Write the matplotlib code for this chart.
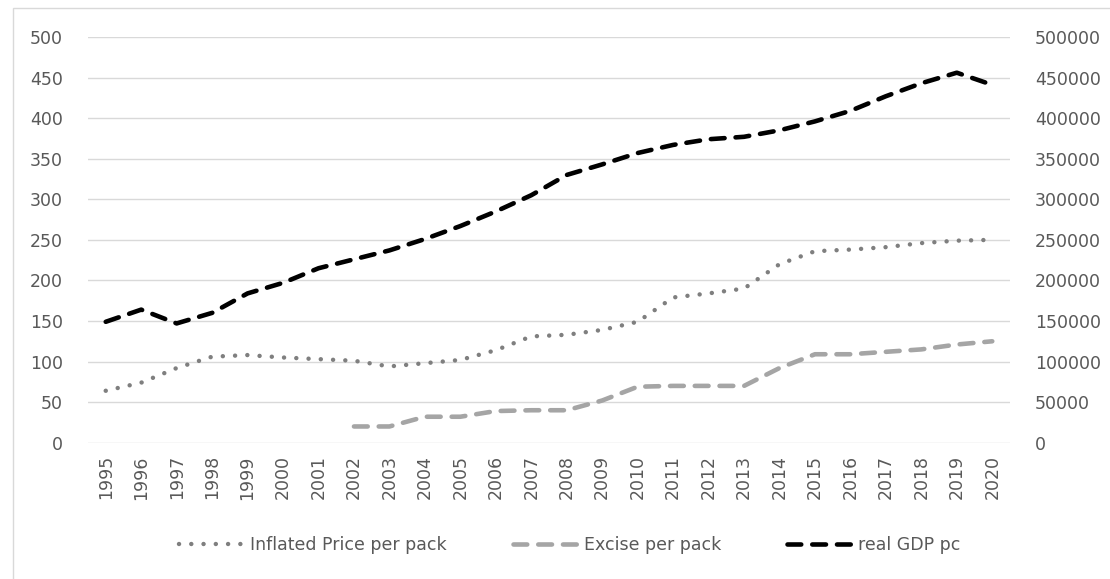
import matplotlib
matplotlib.use("Agg")
import matplotlib.pyplot as plt
from matplotlib.lines import Line2D
from matplotlib.patches import Rectangle
import numpy as np

years = [str(y) for y in range(1995, 2021)]

inflated_price = [64, 74, 92, 106, 108, 105, 103, 101, 94, 98, 102, 114, 131, 133, 139, 149,
                  179, 184, 190, 220, 236, 238, 241, 246, 249, 250]

excise = [None, None, None, None, None, None, None, 20, 20, 32, 32, 39, 40, 40, 52, 69,
          70, 70, 70, 92, 109, 109, 112, 115, 121, 125]

real_gdp_pc = [149000, 164000, 147000, 160000, 184000, 197000, 215000, 226000, 237000, 251000,
               267000, 285000, 305000, 330000, 343000, 357000, 367000, 374000, 377000, 385000,
               396000, 409000, 427000, 443000, 456000, 441000]

left_ticks = list(range(0, 501, 50))
right_ticks = list(range(0, 500001, 50000))

plt.rcParams['font.family'] = ['DejaVu Sans']
TEXT = '#595959'
GRID = '#D9D9D9'
FS = 12.5

fig = plt.figure(figsize=(11.10, 5.79), dpi=100)
fig.patch.set_facecolor('white')

# outer chart frame
fig.patches.append(Rectangle((13 / 1110, -0.05), 1.2, 1 - 8 / 579 + 0.05,
                             transform=fig.transFigure, fill=False,
                             edgecolor=GRID, linewidth=1.0))

ax = fig.add_axes([88 / 1110, 1 - 442.7 / 579, (1010 - 88) / 1110, (442.7 - 37) / 579])
ax2 = ax.twinx()

x = np.arange(len(years))

exc = np.array([np.nan if v is None else v for v in excise], dtype=float)

dot_style = dict(color='#7F7F7F', linewidth=3.2, linestyle=(0, (0.01, 2.75)),
                 dash_capstyle='round')
dash_gray = dict(color='#A5A5A5', linewidth=3.3, linestyle=(0, (3.0, 2.4)),
                 dash_capstyle='round')
dash_black = dict(color='black', linewidth=3.3, linestyle=(0, (3.0, 2.4)),
                  dash_capstyle='round')

ax.plot(x, inflated_price, **dot_style)
ax.plot(x, exc, **dash_gray)
ax2.plot(x, real_gdp_pc, **dash_black)

ax.set_xlim(-0.5, len(years) - 0.5)
ax.set_ylim(0, 500)
ax2.set_ylim(0, 500000)
ax.set_yticks(left_ticks)
ax2.set_yticks(right_ticks)
ax2.set_yticklabels([str(v) for v in right_ticks])
ax.set_xticks(x)
ax.set_xticklabels(years, rotation=90)

ax.grid(axis='y', color=GRID, linewidth=1.0)
ax.set_axisbelow(True)
for a in (ax, ax2):
    for s in a.spines.values():
        s.set_visible(False)
    a.tick_params(length=0, colors=TEXT, labelsize=FS)
ax.tick_params(axis='y', pad=18)
ax.tick_params(axis='x', pad=9)
ax2.tick_params(axis='y', pad=18)

handles = [Line2D([], [], **dot_style),
           Line2D([], [], **dash_gray),
           Line2D([], [], **dash_black)]
labels = ['Inflated Price per pack', 'Excise per pack', 'real GDP pc']
leg = fig.legend(handles, labels, loc='center', bbox_to_anchor=(570 / 1110, 1 - 545 / 579),
                 ncol=3, frameon=False, fontsize=FS, handlelength=4.0,
                 handletextpad=0.1, columnspacing=3.8)
for t in leg.get_texts():
    t.set_color(TEXT)

fig.savefig('out.png', dpi=100, facecolor='white')
